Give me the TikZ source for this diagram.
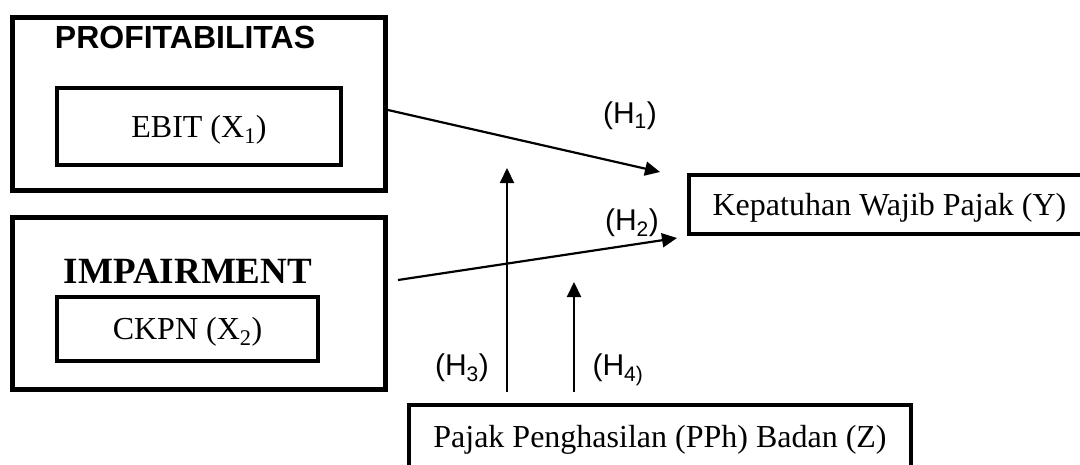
\documentclass[tikz,border=0pt]{standalone}
\usepackage{fontspec}
\setmainfont{Liberation Serif}
\newfontfamily\arialf{Liberation Sans}
\usetikzlibrary{arrows.meta}
\begin{document}
\begin{tikzpicture}[x=1pt,y=-1pt,
 outerbox/.style={draw, line width=5pt, inner sep=0pt, minimum width=373pt},
 innerbox/.style={draw, line width=4pt, inner sep=0pt, font=\fontsize{32}{38}\selectfont, text height=21pt, text depth=0pt},
 plain/.style={inner sep=0pt, anchor=base},
 lbl/.style={plain, font=\arialf\fontsize{30}{34}\selectfont},
 arr/.style={line width=2.2pt, -{Triangle[length=15pt,width=14pt]}},
]
\useasboundingbox (0,0) rectangle (1080,464);
\clip (0,0) rectangle (1080,464);
% left boxes
\node[outerbox, minimum height=173pt] (prof) at (199,104) {};
\node[plain, font=\arialf\bfseries\fontsize{32}{38}\selectfont] (proft) at (185,48) {PROFITABILITAS};
\node[innerbox, minimum width=284pt, minimum height=77pt] (ebit) at (199,126.5) {EBIT (X\textsubscript{1})};
\node[outerbox, minimum height=172pt] (imp) at (199,303.5) {};
\node[plain, font=\bfseries\fontsize{37}{42}\selectfont] (impt) at (188,283) {IMPAIRMENT};
\node[innerbox, minimum width=261pt, minimum height=64pt] (ckpn) at (187.5,329) {CKPN (X\textsubscript{2})};
% right boxes
\node[innerbox, minimum width=401pt, minimum height=59pt] (kep) at (889.5,204.5) {Kepatuhan Wajib Pajak (Y)};
\node[draw, line width=4.5pt, inner sep=0pt, minimum width=502pt, minimum height=68pt] (pph) at (660,439) {};
\node[plain, font=\fontsize{32}{38}\selectfont] (ppht) at (660,447) {Pajak Penghasilan (PPh) Badan (Z)};
% arrows
\coordinate (h1s) at ([yshift=-6pt]prof.east);
\coordinate (h1e) at (660,172);
\coordinate (h2s) at (398,280);
\coordinate (h2e) at (677,238);
\coordinate (h3s) at (507,392);
\coordinate (h3e) at (507,168);
\coordinate (h4s) at (574,392);
\coordinate (h4e) at (574,282);
\draw[arr] (h1s) -- (h1e);
\draw[arr] (h2s) -- (h2e);
\draw[arr] (h3s) -- (h3e);
\draw[arr] (h4s) -- (h4e);
% labels
\node[lbl] (l1) at (630,123) {(H\textsubscript{1})};
\node[lbl] (l2) at (632,230) {(H\textsubscript{2})};
\node[lbl] (l3) at (462,375) {(H\textsubscript{3})};
\node[lbl] (l4) at (618,375) {(H\textsubscript{4)}};
\end{tikzpicture}
\end{document}
